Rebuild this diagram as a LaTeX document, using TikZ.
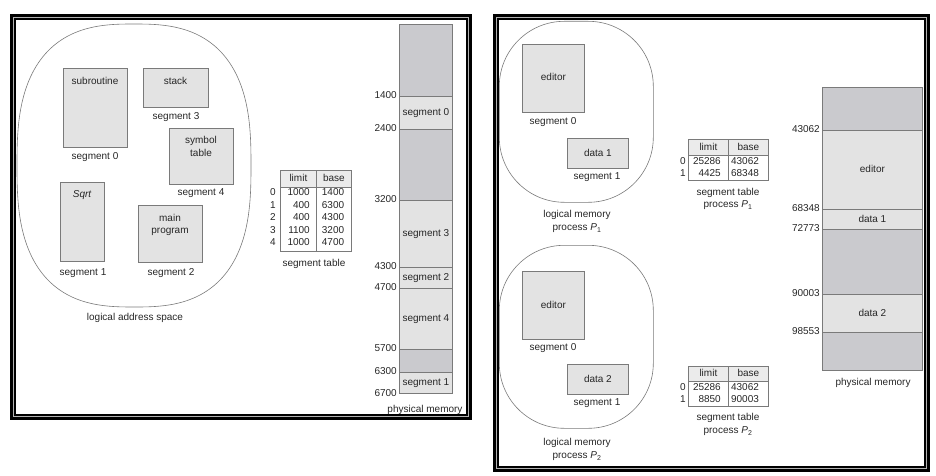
\documentclass[tikz,border=0pt]{standalone}
\usepackage{fontspec}
\setmainfont{Liberation Sans}
\usetikzlibrary{shapes.geometric}
\definecolor{segfill}{HTML}{E3E3E3}
\definecolor{holefill}{HTML}{CACACE}
\definecolor{hdrfill}{HTML}{EBEBEB}
\definecolor{edge}{HTML}{7A7A7A}
\definecolor{ink}{HTML}{262626}
\begin{document}
\begin{tikzpicture}[x=1pt,y=-1pt, font=\fontsize{10}{12}\selectfont, text=ink,
 txt/.style={inner sep=0pt, text height=7.2pt, text depth=2pt},
 segbox/.style={draw=edge, fill=segfill, line width=0.8pt, inner sep=0pt, anchor=north west, text height=7.2pt, text depth=2pt},
 holebox/.style={draw=edge, fill=holefill, line width=0.8pt, inner sep=0pt, anchor=north west},
 addr/.style={txt, anchor=east, xshift=-2pt},
 hdr/.style={draw=edge, fill=hdrfill, line width=0.8pt, inner sep=0pt, anchor=north west, text height=7.2pt, text depth=2pt},
 tbody/.style={draw=edge, line width=0.8pt, inner sep=0pt, anchor=north west},
 space/.style={draw=edge, line width=0.6pt, inner sep=0pt},
 frameband/.style={line width=6pt, draw=black},
 frameline/.style={line width=0.9pt, draw=gray!60},
]
\useasboundingbox (0,0) rectangle (936,476);
% ---------- frames ----------
\draw[frameband] (13,17) rectangle (469,417);
\draw[frameline] (13.8,17.8) rectangle (468.2,416.2);
\draw[frameband] (496,17) rectangle (927,469);
\draw[frameline] (496.8,17.8) rectangle (926.2,468.2);

% ---------- left: logical address space (superellipse) ----------
\draw[space] plot[domain=0.5:360.5, samples=181, smooth]
  ({134+117*cos(\x)*pow(abs(cos(\x)),-0.26)}, {165.5+141.5*sin(\x)*pow(abs(sin(\x)),-0.26)}) -- cycle;
\node[segbox, minimum width=64pt, minimum height=79pt] (sub) at (63,68) {};
\node[txt] (subt) at (95,82) {subroutine};
\node[txt] (s0) at (95,157) {segment 0};
\node[segbox, minimum width=65pt, minimum height=39pt] (stk) at (143,68) {};
\node[txt] (stkt) at (175.5,82) {stack};
\node[txt] (s3) at (176,117) {segment 3};
\node[segbox, minimum width=64pt, minimum height=56pt] (sym) at (169,128) {};
\node[txt] (symt1) at (201,141) {symbol};
\node[txt] (symt2) at (201,154) {table};
\node[txt] (s4) at (201,193) {segment 4};
\node[segbox, minimum width=44pt, minimum height=79pt] (sqrt) at (60,182) {};
\node[txt] (sqrtt) at (82,195) {\itshape Sqrt};
\node[txt] (s1) at (83,273) {segment 1};
\node[segbox, minimum width=64pt, minimum height=57pt] (mainp) at (138,205) {};
\node[txt] (maint1) at (170,219) {main};
\node[txt] (maint2) at (170,231) {program};
\node[txt] (s2) at (171,273) {segment 2};
\node[txt] (lasl) at (135,318) {logical address space};

% ---------- left: segment table ----------
\node[hdr, minimum width=36pt, minimum height=17pt] (lh1) at (280,170) {limit};
\node[hdr, minimum width=35pt, minimum height=17pt] (lh2) at (316,170) {base};
\node[tbody, minimum width=36pt, minimum height=64pt] (lb1) at (280,187) {};
\node[tbody, minimum width=35pt, minimum height=64pt] (lb2) at (316,187) {};
\foreach \i/\l/\b [count=\k from 0] in {0/1000/1400,1/400/6300,2/400/4300,3/1100/3200,4/1000/4700}{
  \node[txt] (li\k) at (273,193+12.5*\k) {\i};
  \node[txt, anchor=east] (ll\k) at (310,193+12.5*\k) {\l};
  \node[txt] (lbv\k) at (333,193+12.5*\k) {\b};
}
\node[txt] (lst) at (314,264) {segment table};

% ---------- left: physical memory ----------
\node[holebox, minimum width=53pt, minimum height=72pt] (ph0) at (399,24) {};
\node[segbox, minimum width=53pt, minimum height=33pt] (pseg0) at (399,96) {segment 0};
\node[holebox, minimum width=53pt, minimum height=71pt] (ph1) at (399,129) {};
\node[segbox, minimum width=53pt, minimum height=67pt] (pseg3) at (399,200) {segment 3};
\node[segbox, minimum width=53pt, minimum height=21pt] (pseg2) at (399,267) {segment 2};
\node[segbox, minimum width=53pt, minimum height=61pt] (pseg4) at (399,288) {segment 4};
\node[holebox, minimum width=53pt, minimum height=23pt] (ph2) at (399,349) {};
\node[segbox, minimum width=53pt, minimum height=21pt] (pseg1) at (399,372) {segment 1};
\node[addr] at (pseg0.north west) {1400};
\node[addr] at (ph1.north west) {2400};
\node[addr] at (pseg3.north west) {3200};
\node[addr] at (pseg2.north west) {4300};
\node[addr] at (pseg4.north west) {4700};
\node[addr] at (ph2.north west) {5700};
\node[addr] at (pseg1.north west) {6300};
\node[addr] at (pseg1.south west) {6700};
\node[txt] (pml) at (425,410) {physical memory};

% ---------- right: logical memory P1 ----------
\node[space, rectangle, rounded corners=65pt, minimum width=154pt, minimum height=181pt, anchor=north west] (lm1) at (499,21) {};
\node[segbox, minimum width=62pt, minimum height=68pt] (ed1) at (522,44) {editor};
\node[txt] (ed1s) at (553,122) {segment 0};
\node[segbox, minimum width=61pt, minimum height=30pt] (d1) at (567,138) {data 1};
\node[txt] (d1s) at (597,177) {segment 1};
\node[txt] (lm1a) at (577,215) {logical memory};
\node[txt] (lm1b) at (577,228) {process {\itshape P}\textsubscript{1}};

% ---------- right: logical memory P2 ----------
\node[space, rectangle, rounded corners=65pt, minimum width=154pt, minimum height=183pt, anchor=north west] (lm2) at (499,245) {};
\node[segbox, minimum width=62pt, minimum height=68pt] (ed2) at (522,271) {editor};
\node[txt] (ed2s) at (553,348) {segment 0};
\node[segbox, minimum width=61pt, minimum height=30pt] (d2) at (567,364) {data 2};
\node[txt] (d2s) at (597,403) {segment 1};
\node[txt] (lm2a) at (577,443) {logical memory};
\node[txt] (lm2b) at (577,456) {process {\itshape P}\textsubscript{2}};

% ---------- right: segment table P1 ----------
\node[hdr, minimum width=40pt, minimum height=16pt] (ah1) at (688,139) {limit};
\node[hdr, minimum width=40pt, minimum height=16pt] (ah2) at (728,139) {base};
\node[tbody, minimum width=40pt, minimum height=25pt] (ab1) at (688,155) {};
\node[tbody, minimum width=40pt, minimum height=25pt] (ab2) at (728,155) {};
\node[txt] at (683,162) {0};
\node[txt, anchor=east] at (721,162) {25286};
\node[txt] at (745,162) {43062};
\node[txt] at (683,174) {1};
\node[txt, anchor=east] at (721,174) {4425};
\node[txt] at (745,174) {68348};
\node[txt] (ast1) at (728,193) {segment table};
\node[txt] (ast2) at (728,205) {process {\itshape P}\textsubscript{1}};

% ---------- right: segment table P2 ----------
\node[hdr, minimum width=40pt, minimum height=15pt] (bh1) at (688,366) {limit};
\node[hdr, minimum width=40pt, minimum height=15pt] (bh2) at (728,366) {base};
\node[tbody, minimum width=40pt, minimum height=25pt] (bb1) at (688,381) {};
\node[tbody, minimum width=40pt, minimum height=25pt] (bb2) at (728,381) {};
\node[txt] at (683,388) {0};
\node[txt, anchor=east] at (721,388) {25286};
\node[txt] at (745,388) {43062};
\node[txt] at (683,400) {1};
\node[txt, anchor=east] at (721,400) {8850};
\node[txt] at (745,400) {90003};
\node[txt] (bst1) at (728,418) {segment table};
\node[txt] (bst2) at (728,431) {process {\itshape P}\textsubscript{2}};

% ---------- right: physical memory ----------
\node[holebox, minimum width=100pt, minimum height=43pt] (qh0) at (822,87) {};
\node[segbox, minimum width=100pt, minimum height=79pt] (qed) at (822,130) {editor};
\node[segbox, minimum width=100pt, minimum height=20pt] (qd1) at (822,209) {data 1};
\node[holebox, minimum width=100pt, minimum height=65pt] (qh1) at (822,229) {};
\node[segbox, minimum width=100pt, minimum height=38pt] (qd2) at (822,294) {data 2};
\node[holebox, minimum width=100pt, minimum height=38pt] (qh2) at (822,332) {};
\node[addr] at (qed.north west) {43062};
\node[addr] at (qd1.north west) {68348};
\node[addr] at (qh1.north west) {72773};
\node[addr] at (qd2.north west) {90003};
\node[addr] at (qh2.north west) {98553};
\node[txt] (qml) at (873,383) {physical memory};
\end{tikzpicture}
\end{document}
